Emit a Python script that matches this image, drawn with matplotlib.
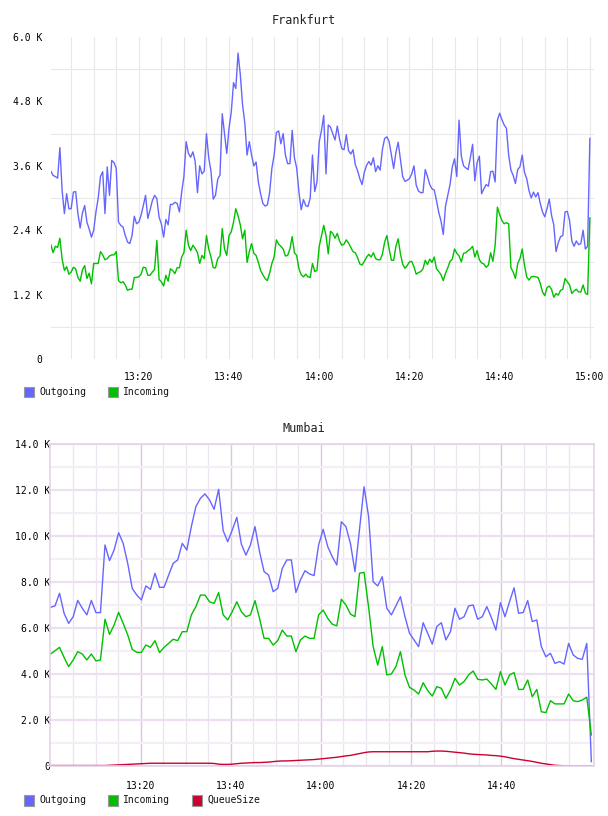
import matplotlib
matplotlib.use('Agg')
import matplotlib.pyplot as plt
import matplotlib.dates as mdates
from matplotlib.patches import Rectangle
import pandas as pd

plt.rcParams['font.family'] = ['DejaVu Sans Mono']

# ---- data (values in thousands) ----
fra_out = [3.50, 3.42, 3.40, 3.37, 3.94, 3.14, 2.71, 3.08, 2.80, 2.80,
           3.11, 3.12, 2.71, 2.44, 2.72, 2.86, 2.55, 2.42, 2.27, 2.40,
           2.74, 3.00, 3.40, 3.49, 2.71, 3.58, 3.05, 3.70, 3.66, 3.55,
           2.55, 2.49, 2.46, 2.30, 2.18, 2.15, 2.30, 2.66, 2.52, 2.55,
           2.68, 2.86, 3.05, 2.62, 2.78, 2.95, 3.05, 2.99, 2.64, 2.52,
           2.27, 2.60, 2.50, 2.88, 2.88, 2.92, 2.90, 2.74, 3.11, 3.40, 4.05,
           3.83, 3.76, 3.86, 3.68, 3.10, 3.60, 3.45, 3.50, 4.20, 3.75,
           3.50, 2.98, 3.05, 3.35, 3.43, 4.57, 4.20, 3.83, 4.30, 4.60,
           5.15, 5.04, 5.70, 5.30, 4.74, 4.40, 3.80, 4.05, 3.80, 3.60,
           3.67, 3.30, 3.08, 2.90, 2.85, 2.87, 3.10, 3.55, 3.80, 4.22,
           4.25, 4.01, 4.20, 3.80, 3.64, 3.64, 4.26, 3.75, 3.56, 3.11,
           2.78, 2.97, 2.86, 2.84, 3.00, 3.80, 3.12, 3.30, 4.05, 4.26,
           4.54, 3.45, 4.36, 4.32, 4.20, 4.08, 4.34, 4.10, 3.92, 3.90,
           4.18, 3.88, 3.82, 3.90, 3.62, 3.51, 3.36, 3.25, 3.48, 3.61,
           3.68, 3.61, 3.75, 3.49, 3.60, 3.52, 3.90, 4.11, 4.14, 4.05,
           3.80, 3.55, 3.85, 4.04, 3.72, 3.40, 3.31, 3.33, 3.36, 3.45,
           3.60, 3.24, 3.13, 3.10, 3.10, 3.53, 3.40, 3.25, 3.17, 3.15,
           2.95, 2.73, 2.57, 2.32, 2.85, 3.05, 3.25, 3.58, 3.73, 3.40,
           4.45, 3.78, 3.60, 3.56, 3.53, 3.75, 4.00, 3.32, 3.66, 3.78,
           3.08, 3.17, 3.25, 3.22, 3.49, 3.50, 3.30, 4.45, 4.58, 4.46,
           4.36, 4.30, 3.80, 3.52, 3.42, 3.27, 3.53, 3.58, 3.80, 3.48,
           3.36, 3.14, 3.00, 3.11, 3.02, 3.10, 2.90, 2.74, 2.65, 2.80,
           2.98, 2.68, 2.50, 2.00, 2.17, 2.28, 2.30, 2.74, 2.75, 2.58,
           2.20, 2.10, 2.20, 2.13, 2.15, 2.40, 2.05, 2.10, 4.11]

fra_in = [2.13, 1.98, 2.10, 2.08, 2.25, 1.86, 1.65, 1.72, 1.58, 1.62,
          1.71, 1.68, 1.52, 1.45, 1.66, 1.74, 1.50, 1.60, 1.40, 1.78,
          1.78, 1.78, 2.00, 1.94, 1.85, 1.87, 1.92, 1.94, 1.94, 2.00,
          1.46, 1.42, 1.44, 1.38, 1.28, 1.30, 1.30, 1.52, 1.52, 1.53,
          1.58, 1.71, 1.70, 1.56, 1.56, 1.62, 1.67, 2.21, 1.48, 1.44,
          1.36, 1.56, 1.45, 1.68, 1.65, 1.59, 1.70, 1.70, 1.90, 1.98, 2.40,
          2.12, 2.02, 2.12, 2.06, 1.98, 1.78, 1.93, 1.87, 2.30, 2.05,
          1.90, 1.70, 1.70, 1.87, 1.92, 2.43, 2.05, 1.93, 2.30, 2.37,
          2.55, 2.80, 2.67, 2.50, 2.24, 2.40, 1.80, 2.00, 2.15, 1.97,
          1.93, 1.80, 1.65, 1.57, 1.50, 1.46, 1.60, 1.78, 1.90, 2.22,
          2.14, 2.10, 2.05, 1.92, 1.93, 2.05, 2.28, 1.98, 1.93, 1.68,
          1.57, 1.53, 1.58, 1.53, 1.52, 1.78, 1.63, 1.65, 2.10, 2.30,
          2.49, 2.30, 1.96, 2.38, 2.34, 2.25, 2.34, 2.20, 2.12, 2.14,
          2.22, 2.16, 2.08, 2.00, 1.98, 1.89, 1.77, 1.75, 1.82, 1.90,
          1.95, 1.90, 1.98, 1.87, 1.85, 1.85, 1.95, 2.18, 2.30, 2.05,
          1.84, 1.84, 2.10, 2.24, 1.96, 1.77, 1.69, 1.74, 1.81, 1.82,
          1.72, 1.58, 1.61, 1.63, 1.68, 1.84, 1.76, 1.86, 1.80, 1.90,
          1.68, 1.63, 1.57, 1.46, 1.60, 1.70, 1.82, 1.86, 2.05, 1.97,
          1.92, 1.81, 1.97, 1.98, 2.02, 2.05, 2.10, 1.90, 2.02, 1.85,
          1.79, 1.77, 1.71, 1.75, 1.98, 1.82, 2.12, 2.83, 2.69, 2.58,
          2.52, 2.54, 2.52, 1.70, 1.62, 1.50, 1.78, 1.87, 2.05, 1.75,
          1.53, 1.47, 1.53, 1.54, 1.53, 1.52, 1.41, 1.25, 1.18, 1.33,
          1.36, 1.30, 1.15, 1.22, 1.19, 1.28, 1.30, 1.50, 1.44, 1.38,
          1.22, 1.27, 1.30, 1.25, 1.25, 1.38, 1.23, 1.20, 2.63]

mum_out = [6.90, 6.96, 7.51, 6.64, 6.20, 6.49, 7.20, 6.86, 6.57, 7.20,
           6.67, 6.67, 9.61, 8.93, 9.39, 10.14, 9.68, 8.81, 7.72, 7.43,
           7.22, 7.83, 7.68, 8.38, 7.77, 7.77, 8.30, 8.81, 8.96, 9.68,
           9.39, 10.41, 11.28, 11.64, 11.83, 11.57, 11.16, 12.03, 10.23, 9.75,
           10.26, 10.81, 9.65, 9.17, 9.61, 10.41, 9.32, 8.45, 8.30, 7.58,
           7.72, 8.59, 8.96, 8.96, 7.54, 8.09, 8.49, 8.35, 8.28, 9.61,
           10.29, 9.54, 9.10, 8.74, 10.62, 10.41, 9.68, 8.45, 10.29, 12.14,
           10.84, 8.01, 7.83, 8.23, 6.86, 6.57, 6.96, 7.36, 6.49, 5.77,
           5.48, 5.19, 6.23, 5.77, 5.30, 6.06, 6.23, 5.48, 5.84, 6.86,
           6.38, 6.49, 6.96, 7.00, 6.38, 6.49, 6.93, 6.46, 5.91, 7.10,
           6.49, 7.14, 7.75, 6.64, 6.67, 7.19, 6.28, 6.35, 5.19, 4.75,
           4.90, 4.46, 4.54, 4.43, 5.33, 4.83, 4.68, 4.64, 5.33, 0.19]

mum_in = [4.87, 5.01, 5.16, 4.72, 4.32, 4.61, 4.97, 4.87, 4.61, 4.87,
          4.57, 4.61, 6.38, 5.72, 6.13, 6.68, 6.20, 5.70, 5.07, 4.94,
          4.94, 5.26, 5.16, 5.45, 4.93, 5.16, 5.33, 5.51, 5.45, 5.84,
          5.84, 6.57, 6.93, 7.43, 7.43, 7.14, 7.07, 7.54, 6.57, 6.35,
          6.71, 7.14, 6.71, 6.49, 6.57, 7.19, 6.42, 5.55, 5.55, 5.26,
          5.45, 5.91, 5.65, 5.65, 4.97, 5.48, 5.65, 5.55, 5.55, 6.57,
          6.78, 6.42, 6.17, 6.09, 7.25, 7.00, 6.61, 6.49, 8.38, 8.42,
          6.90, 5.19, 4.39, 5.19, 3.96, 4.00, 4.32, 4.97, 3.96, 3.42,
          3.30, 3.13, 3.62, 3.28, 3.04, 3.45, 3.38, 2.94, 3.30, 3.81,
          3.52, 3.67, 3.96, 4.13, 3.77, 3.74, 3.78, 3.57, 3.33, 4.10,
          3.52, 3.96, 4.06, 3.33, 3.33, 3.74, 3.01, 3.33, 2.36, 2.32,
          2.84, 2.70, 2.70, 2.70, 3.13, 2.84, 2.80, 2.87, 2.99, 1.35]

mum_queue = [0.02, 0.02, 0.02, 0.02, 0.02, 0.02, 0.02, 0.02, 0.02, 0.02,
             0.02, 0.02, 0.02, 0.03, 0.04, 0.05, 0.06, 0.07, 0.08, 0.09,
             0.10, 0.11, 0.12, 0.12, 0.12, 0.12, 0.12, 0.12, 0.12, 0.12,
             0.12, 0.12, 0.12, 0.12, 0.12, 0.12, 0.11, 0.08, 0.07, 0.07,
             0.08, 0.10, 0.12, 0.13, 0.14, 0.15, 0.15, 0.16, 0.17, 0.19,
             0.21, 0.22, 0.22, 0.23, 0.24, 0.25, 0.26, 0.27, 0.28, 0.30,
             0.32, 0.34, 0.36, 0.38, 0.41, 0.44, 0.46, 0.50, 0.54, 0.58,
             0.61, 0.62, 0.62, 0.62, 0.62, 0.62, 0.62, 0.62, 0.62, 0.62,
             0.62, 0.62, 0.62, 0.62, 0.64, 0.65, 0.65, 0.64, 0.62, 0.60,
             0.58, 0.56, 0.53, 0.51, 0.50, 0.49, 0.48, 0.46, 0.45, 0.43,
             0.40, 0.36, 0.32, 0.29, 0.26, 0.23, 0.20, 0.16, 0.12, 0.09,
             0.06, 0.03, 0.02, 0.01, 0.00, 0.00, 0.00, 0.00, 0.00, 0.00]

day = '2024-01-01 '
fra_time = pd.date_range(day + '13:00:30', periods=len(fra_out), freq='30s')
mum_time = pd.date_range(day + '13:00:00', periods=len(mum_out), freq='60500ms')

fra_yticks = [0, 1.2, 2.4, 3.6, 4.8, 6.0]
mum_yticks = [0, 2, 4, 6, 8, 10, 12, 14]
fra_xlabels = ['13:20', '13:40', '14:00', '14:20', '14:40', '15:00']
mum_xlabels = ['13:20', '13:40', '14:00', '14:20', '14:40']

names = ['Outgoing', 'Incoming', 'QueueSize']
colors = ['#6666ff', '#00c000', '#cc0033']


def num(t):
    return mdates.date2num(pd.to_datetime(t).to_pydatetime())


def klabel(v):
    return '0' if v == 0 else f'{v:.1f} K'


W, H = 608, 816
fig = plt.figure(figsize=(W / 100, H / 100), dpi=100)


def box(x0, y0, x1, y1):
    return [x0 / W, 1 - y1 / H, (x1 - x0) / W, (y1 - y0) / H]


def legend(items, y):
    x = 24
    for name, col in items:
        fig.add_artist(Rectangle((x / W, 1 - (y + 5.5) / H), 10 / W, 11 / H,
                                 transform=fig.transFigure, facecolor=col,
                                 edgecolor='#999999', lw=0.8))
        fig.text((x + 15) / W, 1 - y / H, name, fontsize=7, va='center',
                 ha='left', color='#111111')
        x += 84


# ---- Frankfurt ----
ax1 = fig.add_axes(box(51, 37, 594, 359))
ax1.plot(num(fra_time), fra_out, color=colors[0], lw=1.0)
ax1.plot(num(fra_time), fra_in, color=colors[1], lw=1.0)
ax1.set_ylim(0, 6.0)
ax1.set_xlim(num(day + '13:00:32'), num(day + '15:00:55'))
ax1.xaxis.remove_overlapping_locs = False
ax1.set_yticks(fra_yticks)
ax1.set_yticklabels([klabel(v) for v in fra_yticks])
ax1.set_yticks([0.6, 1.8, 3.0, 4.2, 5.4], minor=True)
ax1.set_xticks(num([day + s for s in fra_xlabels]))
ax1.set_xticklabels(fra_xlabels)
ax1.set_xticks(num(pd.date_range(day + '13:05', day + '15:00', freq='5min')), minor=True)
ax1.grid(True, which='minor', color='#e8e8e8', lw=0.8)
ax1.grid(False, which='major')
for s in ax1.spines.values():
    s.set_visible(False)
ax1.tick_params(which='both', length=0)
ax1.tick_params(axis='y', pad=6, labelsize=7)
ax1.tick_params(axis='x', pad=9, labelsize=7)
ax1.set_axisbelow(True)
fig.text(0.5, 1 - 20 / H, 'Frankfurt', ha='center', va='center', fontsize=8.5,
         color='#222222')
legend(list(zip(names[:2], colors[:2])), 392)

# ---- Mumbai ----
ax2 = fig.add_axes(box(50, 444, 594, 766))
ax2.plot(num(mum_time), mum_out, color=colors[0], lw=1.0)
ax2.plot(num(mum_time), mum_in, color=colors[1], lw=1.0)
ax2.plot(num(mum_time), mum_queue, color=colors[2], lw=1.0)
ax2.set_ylim(0, 14)
ax2.set_xlim(num(day + '12:59:54'), num(day + '15:00:35'))
ax2.set_yticks(mum_yticks)
ax2.set_yticklabels([klabel(v) for v in mum_yticks])
ax2.set_yticks([1, 3, 5, 7, 9, 11, 13], minor=True)
ax2.set_xticks(num([day + s for s in mum_xlabels]))
ax2.set_xticklabels(mum_xlabels)
ax2.set_xticks(num(pd.date_range(day + '13:05', day + '14:55', freq='5min')), minor=True)
ax2.xaxis.grid(True, which='major', color='#dcc6dc', lw=1.0)
ax2.xaxis.grid(True, which='minor', color='#ece4ee', lw=0.9)
ax2.yaxis.grid(True, which='major', color='#ecdff0', lw=1.6)
ax2.yaxis.grid(True, which='minor', color='#f4eff6', lw=1.6)
for s in ax2.spines.values():
    s.set_color('#e4d2e8')
    s.set_linewidth(1.2)
ax2.tick_params(which='both', length=0)
ax2.tick_params(axis='y', pad=0, labelsize=7)
ax2.tick_params(axis='x', pad=11, labelsize=7)
ax2.set_axisbelow(True)
fig.text(0.5, 1 - 428 / H, 'Mumbai', ha='center', va='center', fontsize=8.5,
         color='#222222')
legend(list(zip(names, colors)), 800)

fig.savefig('out.png', dpi=100)
